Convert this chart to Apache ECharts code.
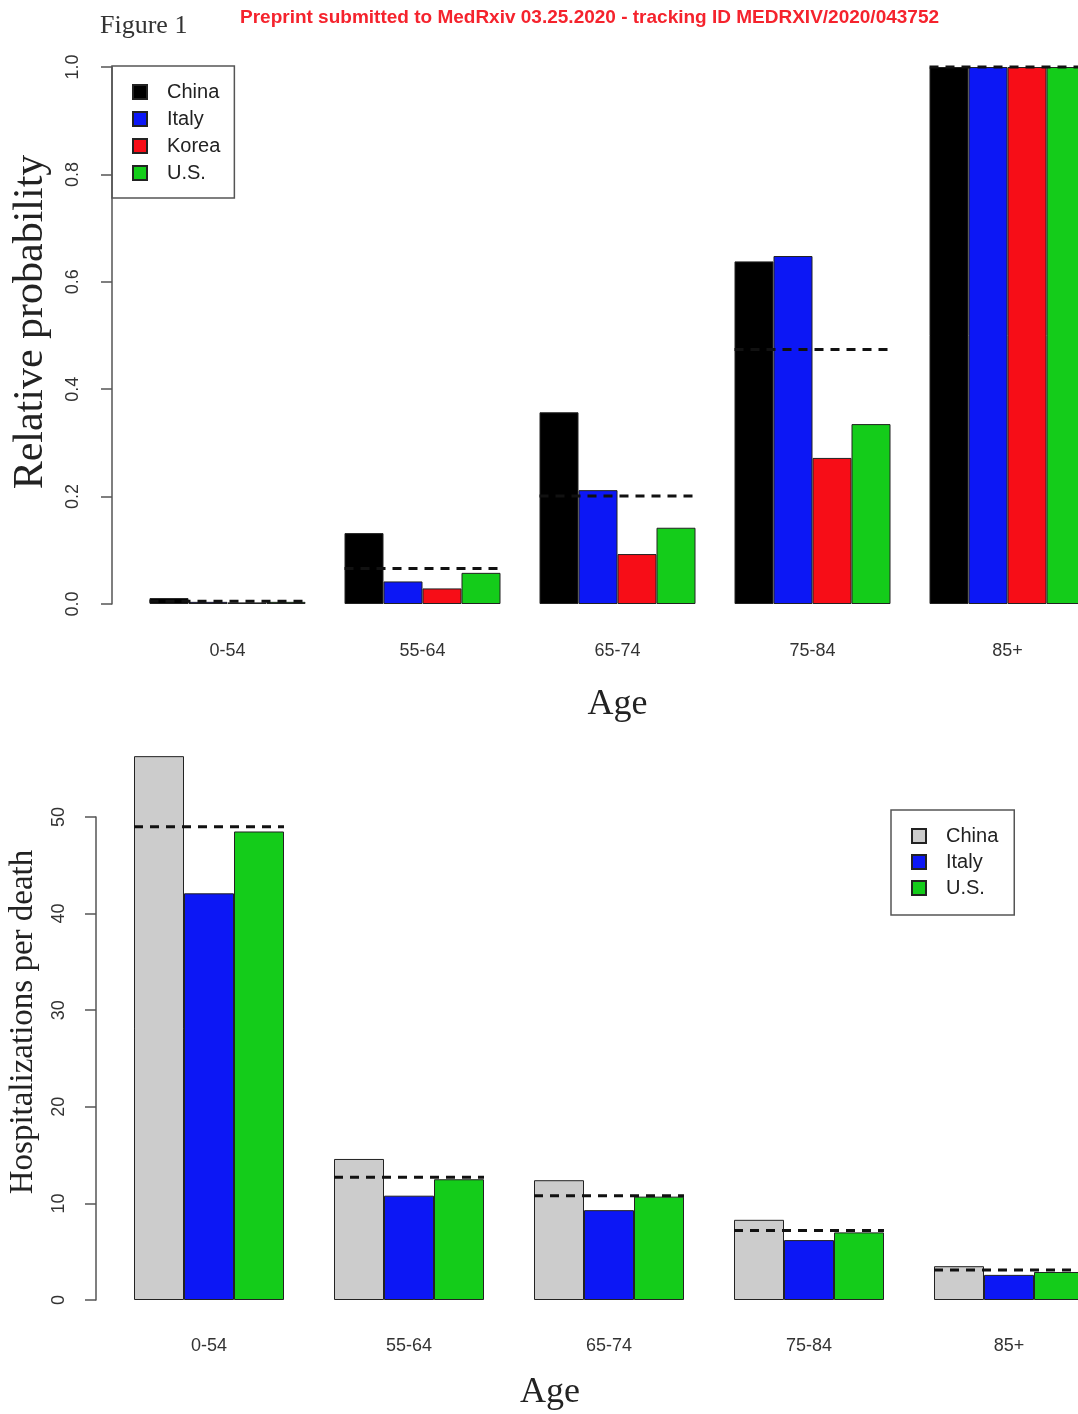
<!DOCTYPE html>
<html>
<head>
<meta charset="utf-8">
<script src="https://cdn.jsdelivr.net/npm/echarts@6/dist/echarts.min.js"></script>
<style>
  html, body { margin: 0; padding: 0; background: #fff; overflow: hidden; width: 1078px; height: 1414px; }
  #top { position: absolute; left: 0; top: 0; width: 1120px; height: 750px; }
  #bottom { position: absolute; left: 0; top: 720px; width: 1120px; height: 694px; }
</style>
</head>
<body>
<div id="top"></div>
<div id="bottom"></div>
<script>
var ageGroups = ['0-54', '55-64', '65-74', '75-84', '85+'];

// panel 1: relative probability
var probChina = [0.011, 0.132, 0.357, 0.638, 1.0];
var probItaly = [0.004, 0.042, 0.212, 0.648, 1.0];
var probKorea = [0.003, 0.029, 0.093, 0.272, 1.0];
var probUS    = [0.004, 0.058, 0.142, 0.335, 1.0];
var probMean  = [0.005, 0.066, 0.201, 0.474, 1.0];

// panel 2: hospitalizations per death
var hospChina = [56.3, 14.6, 12.4, 8.3, 3.5];
var hospItaly = [42.1, 10.8, 9.3, 6.2, 2.6];
var hospUS    = [48.5, 12.5, 10.7, 7.0, 2.9];
var hospMean  = [49.0, 12.7, 10.8, 7.2, 3.1];

var serif = '"Liberation Serif", "DejaVu Serif", serif';
var sans = '"Liberation Sans", Arial, sans-serif';

function barSeries(name, data, color) {
  return {
    name: name,
    type: 'bar',
    data: data,
    barGap: 0,
    clip: false,
    itemStyle: { color: color, borderColor: '#222', borderWidth: 1 }
  };
}

// dashed mean line across each age group
function meanSeries(data, groupFrac) {
  return {
    type: 'custom',
    z: 10,
    clip: false,
    data: data.map(function (v, i) { return [i, v]; }),
    renderItem: function (params, api) {
      var p = api.coord([api.value(0), api.value(1)]);
      var w = api.size([1, 0])[0] * groupFrac;
      return {
        type: 'line',
        shape: { x1: p[0] - w / 2, y1: p[1], x2: p[0] + w / 2, y2: p[1] },
        style: { stroke: '#111', lineWidth: 3, lineDash: [9, 7] }
      };
    }
  };
}

var topChart = echarts.init(document.getElementById('top'));
topChart.setOption({
  animation: false,
  title: [
    { text: 'Figure 1', left: 95, top: 8,
      textStyle: { fontFamily: serif, fontSize: 26, fontWeight: 'normal', color: '#333' } },
    { text: 'Preprint submitted to MedRxiv 03.25.2020 - tracking ID MEDRXIV/2020/043752', left: 235, top: 3,
      textStyle: { fontFamily: sans, fontSize: 19, fontWeight: 'bold', color: '#f5232d' } }
  ],
  legend: {
    orient: 'vertical',
    left: 112, top: 66,
    data: ['China', 'Italy', 'Korea', 'U.S.'],
    icon: 'rect',
    itemWidth: 14, itemHeight: 14, itemGap: 7,
    padding: [16, 14, 15, 20],
    borderColor: '#555', borderWidth: 1.5,
    textStyle: { fontFamily: sans, fontSize: 20, lineHeight: 20, color: '#222', padding: [0, 0, 0, 15] }
  },
  grid: { left: 130, top: 67, width: 975, height: 537, outerBoundsMode: 'none', containLabel: false },
  xAxis: {
    type: 'category',
    data: ageGroups,
    axisLine: { show: false },
    axisTick: { show: false },
    axisLabel: { fontFamily: sans, fontSize: 18, color: '#333', margin: 38 },
    name: 'Age',
    nameLocation: 'middle',
    nameGap: 83,
    nameTextStyle: { fontFamily: serif, fontSize: 36, color: '#222' }
  },
  yAxis: {
    type: 'value',
    min: 0, max: 1, interval: 0.2,
    offset: 18,
    axisLine: { show: true, lineStyle: { color: '#555', width: 1.5 } },
    axisTick: { show: true, length: 11, lineStyle: { color: '#555', width: 1.5 } },
    splitLine: { show: false },
    axisLabel: { rotate: 90, fontFamily: sans, fontSize: 18, color: '#333', margin: 30,
      formatter: function (v) { return v.toFixed(1); } },
    name: 'Relative probability',
    nameLocation: 'middle',
    nameGap: 60,
    nameTextStyle: { fontFamily: serif, fontSize: 42, color: '#222', padding: [0, 0, 0, 27] }
  },
  series: [
    barSeries('China', probChina, '#000000'),
    barSeries('Italy', probItaly, '#0c17f5'),
    barSeries('Korea', probKorea, '#f70d17'),
    barSeries('U.S.', probUS, '#14cc1a'),
    meanSeries(probMean, 0.8)
  ].map(function (s) {
    if (s.type === 'bar') s.barCategoryGap = '20%';
    return s;
  })
});

var bottomChart = echarts.init(document.getElementById('bottom'));
bottomChart.setOption({
  animation: false,
  legend: {
    orient: 'vertical',
    left: 891, top: 90,
    data: ['China', 'Italy', 'U.S.'],
    icon: 'rect',
    itemWidth: 14, itemHeight: 14, itemGap: 6,
    padding: [16, 16, 17, 20],
    borderColor: '#555', borderWidth: 1.5,
    textStyle: { fontFamily: sans, fontSize: 20, lineHeight: 20, color: '#222', padding: [0, 0, 0, 15] }
  },
  grid: { left: 109, top: 97, width: 1000, height: 483, outerBoundsMode: 'none', containLabel: false },
  xAxis: {
    type: 'category',
    data: ageGroups,
    axisLine: { show: false },
    axisTick: { show: false },
    axisLabel: { fontFamily: sans, fontSize: 18, color: '#333', margin: 37 },
    name: 'Age',
    nameLocation: 'middle',
    nameGap: 75,
    nameTextStyle: { fontFamily: serif, fontSize: 36, color: '#222', padding: [0, 118, 0, 0] }
  },
  yAxis: {
    type: 'value',
    min: 0, max: 50, interval: 10,
    offset: 13,
    axisLine: { show: true, lineStyle: { color: '#555', width: 1.5 } },
    axisTick: { show: true, length: 11, lineStyle: { color: '#555', width: 1.5 } },
    splitLine: { show: false },
    axisLabel: { rotate: 90, fontFamily: sans, fontSize: 18, color: '#333', margin: 28 },
    name: 'Hospitalizations per death',
    nameLocation: 'middle',
    nameGap: 56,
    nameTextStyle: { fontFamily: serif, fontSize: 33, color: '#222', padding: [0, 0, 0, 73] }
  },
  series: [
    barSeries('China', hospChina, '#cccccc'),
    barSeries('Italy', hospItaly, '#0c17f5'),
    barSeries('U.S.', hospUS, '#14cc1a'),
    meanSeries(hospMean, 0.75)
  ].map(function (s) {
    if (s.type === 'bar') s.barCategoryGap = '25%';
    return s;
  })
});
</script>
</body>
</html>
